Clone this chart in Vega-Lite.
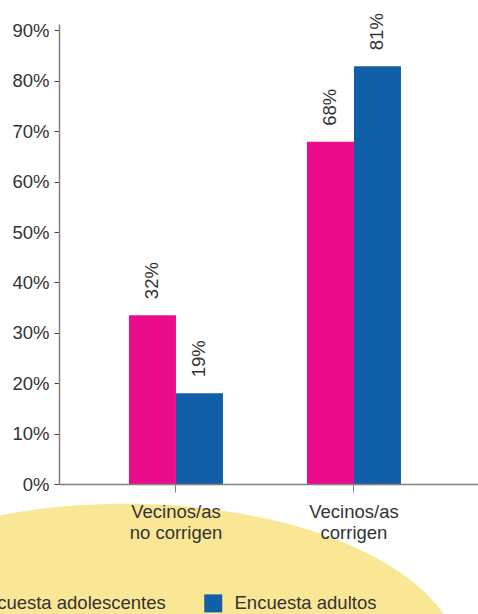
{
  "$schema": "https://vega.github.io/schema/vega-lite/v6.json",
  "width": 419,
  "height": 460,
  "autosize": {"type": "none"},
  "padding": {"left": 59, "top": 24, "right": 0, "bottom": 130},
  "background": "white",
  "config": {"view": {"stroke": null}, "font": "Liberation Sans"},
  "data": {"values": [
    {"grupo": "Vecinos/as no corrigen", "serie": "Encuesta adolescentes", "valor": 33.5, "etiqueta": "32%"},
    {"grupo": "Vecinos/as no corrigen", "serie": "Encuesta adultos", "valor": 18.0, "etiqueta": "19%"},
    {"grupo": "Vecinos/as corrigen", "serie": "Encuesta adolescentes", "valor": 67.9, "etiqueta": "68%"},
    {"grupo": "Vecinos/as corrigen", "serie": "Encuesta adultos", "valor": 82.9, "etiqueta": "81%"}
  ]},
  "encoding": {
    "x": {
      "field": "grupo", "type": "nominal", "sort": null,
      "scale": {"paddingInner": 0.4719, "paddingOuter": 0.4129, "align": 0.476},
      "axis": {
        "title": null, "labelAngle": 0,
        "labelExpr": "['Vecinos/as', replace(datum.label, 'Vecinos/as ', '')]",
        "labelFontSize": 18.5, "labelColor": "#333333", "labelLineHeight": 21,
        "labelPadding": 10, "labelBaseline": "top", "tickSize": 8, "tickColor": "#808080",
        "domainColor": "#808080", "domainWidth": 1.5, "zindex": 1
      }
    },
    "y": {
      "field": "valor", "type": "quantitative",
      "scale": {"domain": [0, 91.27], "nice": false},
      "axis": {
        "title": null, "values": [0, 10, 20, 30, 40, 50, 60, 70, 80, 90],
        "labelExpr": "datum.value + '%'", "grid": false,
        "tickSize": 5, "tickColor": "#444444", "labelPadding": 5,
        "labelFontSize": 18.5, "labelColor": "#333333",
        "domainColor": "#808080", "domainWidth": 1.5, "zindex": 1
      }
    }
  },
  "layer": [
    {
      "transform": [{"filter": "datum.grupo === 'Vecinos/as no corrigen' && datum.serie === 'Encuesta adolescentes'"}],
      "mark": {
        "type": "point",
        "shape": "M -1.152 0.537 A 1 0.478 0 1 1 0.848 0.537 A 1 0.478 0 1 1 -1.152 0.537 Z",
        "size": 448900, "filled": true, "opacity": 1, "color": "#FAE796", "strokeWidth": 0
      },
      "encoding": {"y": {"datum": 0}}
    },
    {
      "mark": {"type": "bar"},
      "encoding": {
        "xOffset": {"field": "serie", "sort": null, "scale": {"paddingInner": 0, "paddingOuter": 0}},
        "color": {
          "field": "serie", "type": "nominal",
          "scale": {"domain": ["Encuesta adolescentes", "Encuesta adultos"], "range": ["#EB0C8C", "#125FA9"]},
          "legend": {
            "title": null, "orient": "none", "legendX": -115, "legendY": 570,
            "direction": "horizontal", "columns": 2, "columnPadding": 38,
            "symbolType": "square", "symbolSize": 324, "symbolStrokeWidth": 0, "symbolOpacity": 1,
            "labelFontSize": 18.5, "labelColor": "#333333", "labelOffset": 12, "labelLimit": 0,
            "padding": 0, "zindex": 1
          }
        }
      }
    },
    {
      "mark": {"type": "text", "angle": 270, "align": "left", "baseline": "middle", "dx": 16, "fontSize": 18.5, "color": "#333333"},
      "encoding": {
        "xOffset": {"field": "serie", "sort": null},
        "text": {"field": "etiqueta"}
      }
    }
  ]
}
